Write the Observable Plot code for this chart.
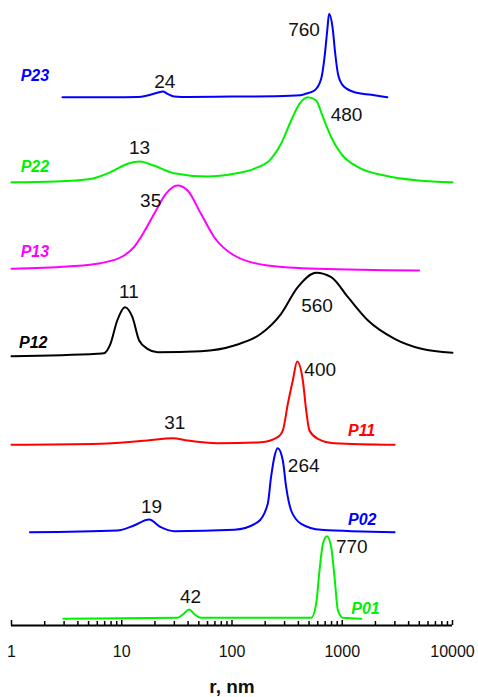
<!DOCTYPE html>
<html><head><meta charset="utf-8">
<script src="https://cdn.jsdelivr.net/npm/d3@7"></script>
<script src="https://cdn.jsdelivr.net/npm/@observablehq/plot@0.6"></script>
<style>body{margin:0;background:#fff}</style>
</head><body><div id="chart"></div>
<script>
// Series (top to bottom) and their colours
const seriesNames = ["P23", "P22", "P13", "P12", "P11", "P02", "P01"];
const seriesColors = ["#0000ff", "#00f000", "#ff00ff", "#000000", "#ff0000", "#0000ff", "#00f000"];
// Vertical offsets of each curve's baseline (stacking, arbitrary units)
const seriesOffsets = [528.3, 443.3, 355, 269.3, 180.7, 93.3, 6.7];

// Size distributions: [r (nm), intensity above baseline]
const P23 = [[2.9,0],[8,0],[14,0.3],[17,1.7],[21,4.4],[23.7,5.7],[26,3.4],[30,0.7],[40,0.2],[100,0.6],[250,1],[418,2],[454,3],[560,6.7],[644,18.4],[691,40],[731,66.7],[760,83.4],[816,70],[864,43.4],[914,23.4],[1014,11.7],[1294,5],[1834,2.4],[2566,0]];
const P22 = [[1,0],[2.5,0.8],[5.2,3.3],[7.9,10],[11.3,18.4],[14.6,20.7],[19.5,16.7],[29.7,9],[60,5.7],[104,8.4],[158,13.4],[226,23.4],[279,38.4],[344,61.7],[409,78.4],[488,85],[580,81.7],[668,65],[794,45],[979,28.4],[1389,15],[2425,6.7],[4877,1.7],[10000,0]];
const P13 = [[1,1.7],[3.2,4],[6.4,7.3],[10.5,15],[12.9,23.3],[14.9,33.3],[19.7,56.7],[25.1,76.7],[32,85],[39.6,80],[52.3,56.7],[69,33.3],[105,15],[211,5],[601,1.7],[4980,0]];
const P12 = [[1,0],[6,2.4],[6.9,3],[7.9,12.4],[9.1,35.7],[10.7,49],[12.5,39],[14.4,15.7],[17.1,7.4],[21.1,4],[52.3,5],[105,10.7],[183,22.4],[279,42.4],[395,69],[580,83.4],[794,79],[1127,59],[1714,35.7],[2987,17.4],[5224,7.4],[10000,3.4]];
const P11 = [[1,0],[6.4,1],[17.1,4.3],[29,6.6],[39.5,4.3],[74,1.6],[183,2.6],[260,7.6],[289,14.3],[321,41],[356,64.3],[390,83.3],[439,64.3],[471,34.3],[504,14.3],[601,6],[851,1.6],[2988,0]];
const P02 = [[1.47,0],[9.1,1.7],[12.9,6.7],[17.7,12.7],[22.6,5],[29.9,1],[105,2.4],[171,10],[211,28.4],[226,55],[242,75],[260,84],[289,71.7],[310,45],[344,21.7],[424,8.4],[644,2.4],[2988,0]];
const P01 = [[2.95,0],[32.1,1],[36,4.5],[40.9,9.3],[45.7,4.5],[52.3,1],[523,1],[580,15],[622,48.3],[668,75],[726,82.6],[794,71.6],[851,41.6],[914,8.3],[1014,1],[1489,0]];
const seriesData = [P23, P22, P13, P12, P11, P02, P01];

// Series name labels: [r, y]
const nameLabelPos = [[1.21,550],[1.21,458.3],[1.21,373.3],[1.17,282.7],[1127,195],[1127,105.7],[1208,16.7]];

// Peak value labels
const peakLabels = ["760","24","480","13","35","11","560","400","31","264","19","770","42"];
const peakLabelR = [450, 24.6, 1094, 14.5, 18.3, 11.6, 590, 631, 30.3, 447, 18.6, 1220, 42];
const peakLabelY = [596, 544, 510.7, 477.3, 425, 333.3, 320, 256, 202.7, 159.3, 118.3, 78.3, 29];

// Axis ticks
const majorTicks = [1, 10, 100, 1000, 10000];
const minorTicks = d3.range(0, 4).flatMap(e => d3.range(2, 10).map(m => m * 10 ** e));
const xLabel = "r, nm";

const curves = seriesData.flatMap((arr, i) =>
  arr.map(([r, h]) => ({series: seriesNames[i], color: seriesColors[i], r, y: seriesOffsets[i] + h})));
const names = seriesNames.map((s, i) => ({s, color: seriesColors[i], r: nameLabelPos[i][0], y: nameLabelPos[i][1]}));
const peaks = peakLabels.map((t, i) => ({t, r: peakLabelR[i], y: peakLabelY[i]}));

const font = "Arial, 'Liberation Sans', sans-serif";
const chart = Plot.plot({
  width: 478,
  height: 697,
  marginLeft: 11,
  marginRight: 26,
  marginTop: 0,
  marginBottom: 72,
  style: {fontFamily: font, fontSize: "16px", color: "#000", background: "#fff", overflow: "visible"},
  x: {type: "log", domain: [1, 10000], label: null},
  y: {domain: [0, 625], axis: null},
  color: {type: "identity"},
  marks: [
    Plot.line(curves, {x: "r", y: "y", z: "series", stroke: "color", strokeWidth: 2, curve: "monotone-x"}),
    Plot.text(names, {x: "r", y: "y", text: "s", fill: "color", textAnchor: "start", fontWeight: "bold", fontStyle: "italic", fontSize: 16}),
    Plot.text(peaks, {x: "r", y: "y", text: "t", fill: "#111", fontSize: 19}),
    Plot.ruleY([0], {stroke: "#000", strokeWidth: 2}),
    Plot.axisX(minorTicks, {tickSize: -4, strokeWidth: 1.5, tickFormat: () => "", label: null}),
    Plot.axisX(majorTicks, {tickSize: -5, strokeWidth: 1.5, tickPadding: 25, tickFormat: d => String(d), fontSize: 16, fill: "#111", label: null}),
    Plot.text([xLabel], {frameAnchor: "bottom", dy: 67, text: d => d, fontWeight: "bold", fontSize: 19, fill: "#111"})
  ]
});
document.getElementById("chart").appendChild(chart);
</script>
</body></html>
